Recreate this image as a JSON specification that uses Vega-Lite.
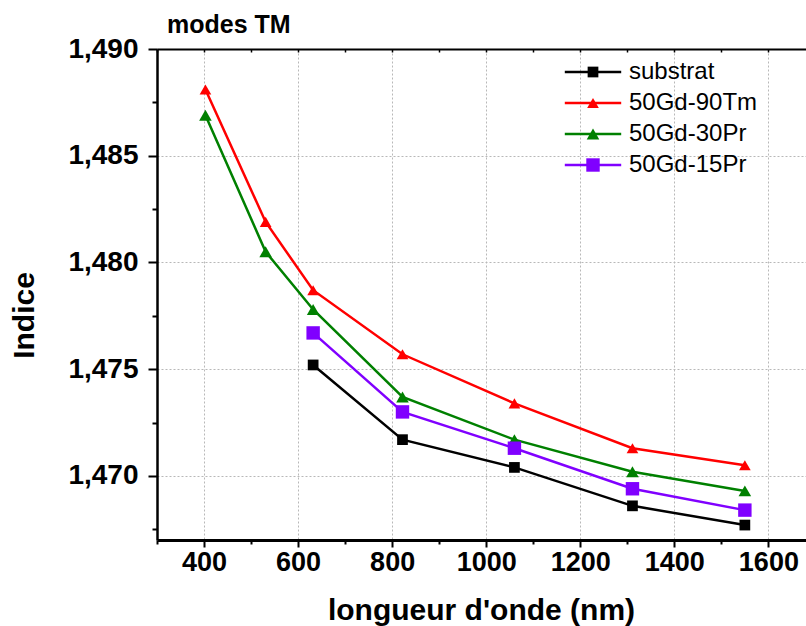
{
  "$schema": "https://vega.github.io/schema/vega-lite/v6.json",
  "autosize": "none",
  "width": 649,
  "height": 491,
  "padding": {"left": 157, "top": 49, "right": 0, "bottom": 86},
  "background": "white",
  "title": {"text": "modes TM", "anchor": "start", "frame": "group", "dx": 10, "fontSize": 25, "fontWeight": "bold", "font": "Liberation Sans", "offset": -23, "baseline": "alphabetic", "color": "black"},
  "config": {
    "font": "Liberation Sans",
    "view": {"stroke": null}
  },
  "data": {"values": [
    {"series": "substrat", "wl": 632, "n": 1.4752},
    {"series": "substrat", "wl": 822, "n": 1.4717},
    {"series": "substrat", "wl": 1060, "n": 1.4704},
    {"series": "substrat", "wl": 1311, "n": 1.4686},
    {"series": "substrat", "wl": 1550, "n": 1.4677},
    {"series": "50Gd-90Tm", "wl": 403, "n": 1.4881},
    {"series": "50Gd-90Tm", "wl": 531, "n": 1.4819},
    {"series": "50Gd-90Tm", "wl": 632, "n": 1.4787},
    {"series": "50Gd-90Tm", "wl": 822, "n": 1.4757},
    {"series": "50Gd-90Tm", "wl": 1060, "n": 1.4734},
    {"series": "50Gd-90Tm", "wl": 1311, "n": 1.4713},
    {"series": "50Gd-90Tm", "wl": 1550, "n": 1.4705},
    {"series": "50Gd-30Pr", "wl": 403, "n": 1.4869},
    {"series": "50Gd-30Pr", "wl": 531, "n": 1.4805},
    {"series": "50Gd-30Pr", "wl": 632, "n": 1.4778},
    {"series": "50Gd-30Pr", "wl": 822, "n": 1.4737},
    {"series": "50Gd-30Pr", "wl": 1060, "n": 1.4717},
    {"series": "50Gd-30Pr", "wl": 1311, "n": 1.4702},
    {"series": "50Gd-30Pr", "wl": 1550, "n": 1.4693},
    {"series": "50Gd-15Pr", "wl": 632, "n": 1.4767},
    {"series": "50Gd-15Pr", "wl": 822, "n": 1.4730},
    {"series": "50Gd-15Pr", "wl": 1060, "n": 1.4713},
    {"series": "50Gd-15Pr", "wl": 1311, "n": 1.4694},
    {"series": "50Gd-15Pr", "wl": 1550, "n": 1.4684}
  ]},
  "resolve": {"axis": {"x": "independent"}},
  "layer": [
    {
      "mark": {"type": "line", "strokeWidth": 2.5},
      "encoding": {
        "x": {
          "field": "wl", "type": "quantitative",
          "scale": {"domain": [300, 1680], "nice": false, "zero": false},
          "axis": {
            "orient": "bottom",
            "values": [300, 400, 500, 600, 700, 800, 900, 1000, 1100, 1200, 1300, 1400, 1500, 1600],
            "format": "d",
            "labelExpr": "datum.value % 200 == 0 ? datum.label : ''",
            "tickSize": {"condition": {"test": "datum.value % 200 == 0", "value": 7}, "value": 4},
            "tickColor": "black", "tickWidth": 2,
            "domainColor": "black", "domainWidth": 3,
            "grid": true, "gridColor": "#b8b8b8", "gridDash": [2, 2], "gridWidth": 1,
            "gridOpacity": {"condition": {"test": "datum.value % 200 == 0 && datum.value > 300", "value": 1}, "value": 0},
            "labelFontSize": 27, "labelFontWeight": "bold", "labelColor": "black", "labelPadding": 2,
            "labelFlush": false, "labelOverlap": false,
            "title": "longueur d'onde (nm)", "titleFontSize": 30, "titleFontWeight": "bold", "titleColor": "black",
            "titleX": 324, "titleY": 79, "titleBaseline": "alphabetic", "titleAlign": "center", "titleAnchor": null
          }
        },
        "y": {
          "field": "n", "type": "quantitative",
          "scale": {"domain": [1.467, 1.49], "nice": false, "zero": false},
          "axis": {
            "values": [1.4675, 1.47, 1.4725, 1.475, 1.4775, 1.48, 1.4825, 1.485, 1.4875, 1.49],
            "labelExpr": "abs(datum.value*200 - round(datum.value*200)) < 0.001 ? replace(format(datum.value, '.3f'), '.', ',') : ''",
            "tickSize": {"condition": {"test": "abs(datum.value*200 - round(datum.value*200)) < 0.001", "value": 9}, "value": 5},
            "tickColor": "black", "tickWidth": 2,
            "domainColor": "black", "domainWidth": 2.5,
            "grid": true, "gridColor": "#b8b8b8", "gridDash": [2, 2], "gridWidth": 1,
            "gridOpacity": {"condition": {"test": "abs(datum.value*200 - round(datum.value*200)) < 0.001 && datum.value < 1.4895", "value": 1}, "value": 0},
            "labelFontSize": 28, "labelFontWeight": "bold", "labelColor": "black", "labelPadding": 10,
            "labelFlush": false, "labelOverlap": false,
            "title": "Indice", "titleFontSize": 30, "titleFontWeight": "bold", "titleColor": "black",
            "titleX": -124, "titleY": 266, "titleBaseline": "alphabetic", "titleAlign": "center", "titleAngle": -90, "titleAnchor": null
          }
        },
        "stroke": {
          "field": "series", "type": "nominal",
          "sort": ["substrat", "50Gd-90Tm", "50Gd-30Pr", "50Gd-15Pr"],
          "scale": {"range": ["#000000", "#ff0000", "#008000", "#8000ff"]},
          "legend": {
            "orient": "none", "legendX": 424, "legendY": 11, "title": null, "padding": 0,
            "labelFontSize": 24, "labelColor": "black", "labelFont": "Liberation Sans",
            "symbolType": "M-4.7,0L4.7,0",
            "symbolSize": 144, "symbolStrokeWidth": 2.5, "labelOffset": 24, "rowPadding": 7
          }
        }
      }
    },
    {
      "mark": {"type": "point", "filled": true, "opacity": 1},
      "encoding": {
        "x": {
          "field": "wl", "type": "quantitative",
          "axis": {
            "orient": "top",
            "values": [300, 400, 500, 600, 700, 800, 900, 1000, 1100, 1200, 1300, 1400, 1500, 1600],
            "labels": false, "grid": false, "title": null,
            "tickSize": -3, "tickColor": "black", "tickWidth": 1.5,
            "domainColor": "black", "domainWidth": 2
          }
        },
        "y": {"field": "n", "type": "quantitative"},
        "fill": {
          "field": "series", "type": "nominal",
          "scale": {"domain": ["substrat", "50Gd-90Tm", "50Gd-30Pr", "50Gd-15Pr"], "range": ["#000000", "#ff0000", "#008000", "#8000ff"]},
          "legend": {"orient": "none", "legendX": 424, "legendY": 11, "title": null, "padding": 0, "labelFontSize": 24, "labelColor": "transparent", "labelFont": "Liberation Sans", "symbolStrokeWidth": 0, "labelOffset": 24, "rowPadding": 7}
        },
        "shape": {
          "field": "series", "type": "nominal",
          "scale": {"domain": ["substrat", "50Gd-90Tm", "50Gd-30Pr", "50Gd-15Pr"], "range": ["square", "triangle-up", "triangle-up", "square"]},
          "legend": {"orient": "none", "legendX": 424, "legendY": 11, "title": null, "padding": 0, "labelFontSize": 24, "labelColor": "transparent", "labelFont": "Liberation Sans", "symbolStrokeWidth": 0, "labelOffset": 24, "rowPadding": 7}
        },
        "size": {
          "field": "series", "type": "nominal",
          "scale": {"domain": ["substrat", "50Gd-90Tm", "50Gd-30Pr", "50Gd-15Pr"], "range": [115, 180, 180, 115]},
          "legend": {"orient": "none", "legendX": 424, "legendY": 11, "title": null, "padding": 0, "labelFontSize": 24, "labelColor": "transparent", "labelFont": "Liberation Sans", "symbolStrokeWidth": 0, "labelOffset": 24, "rowPadding": 7}
        }
      }
    }
  ]
}
